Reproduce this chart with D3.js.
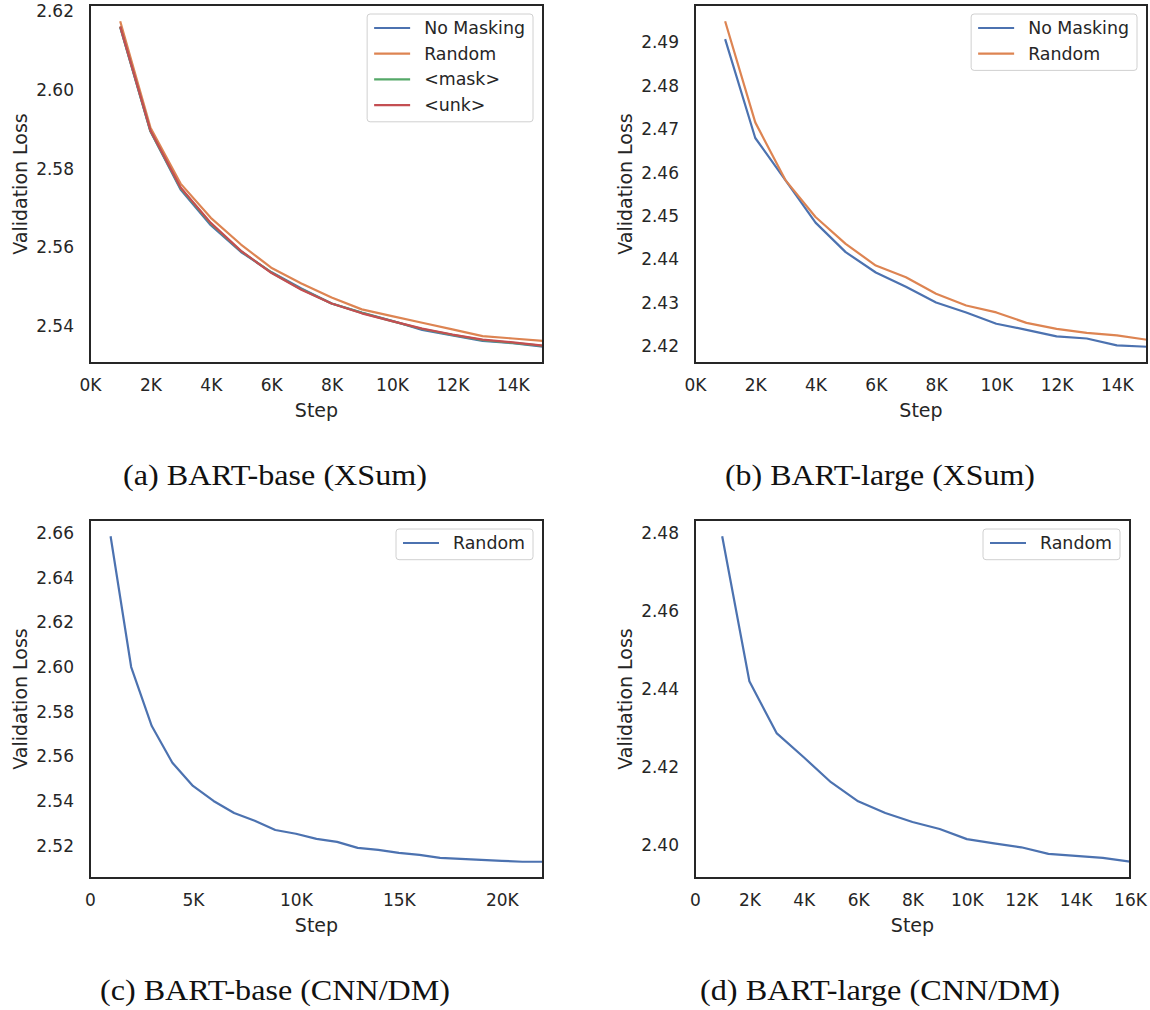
<!DOCTYPE html>
<html>
  <head>
    <meta charset="utf-8">
    <title>Validation loss</title>
    <script src="https://d3js.org/d3.v7.min.js"></script>
    <style>
      body { margin: 0; background: #fff; }
      text { font-family: "DejaVu Sans", sans-serif; fill: #262626; }
      .caption { font-family: "Liberation Serif", "DejaVu Serif", serif; fill: #111; }
    </style>
  </head>
  <body>
    <div id="chart"></div>
    <script>
      // steps (x values)
      const steps15 = [1000, 2000, 3000, 4000, 5000, 6000, 7000, 8000, 9000, 10000, 11000, 12000, 13000, 14000, 15000];
      const steps16 = [1000, 2000, 3000, 4000, 5000, 6000, 7000, 8000, 9000, 10000, 11000, 12000, 13000, 14000, 15000, 16000];
      const steps22 = [1000, 2000, 3000, 4000, 5000, 6000, 7000, 8000, 9000, 10000, 11000, 12000, 13000, 14000, 15000, 16000, 17000, 18000, 19000, 20000, 21000, 22000];

      // (a) BART-base XSum
      const baseXsumNoMask = [2.6160, 2.5895, 2.5747, 2.5656, 2.5588, 2.5537, 2.5495, 2.5457, 2.5434, 2.5413, 2.5390, 2.5376, 2.5362, 2.5356, 2.5347];
      const baseXsumRandom = [2.6175, 2.5905, 2.5762, 2.5675, 2.5607, 2.5548, 2.5508, 2.5472, 2.5442, 2.5425, 2.5408, 2.5391, 2.5374, 2.5368, 2.5362];
      const baseXsumMask = [2.6161, 2.5896, 2.5750, 2.5660, 2.5590, 2.5536, 2.5493, 2.5457, 2.5433, 2.5412, 2.5392, 2.5377, 2.5364, 2.5357, 2.5349];
      const baseXsumUnk = [2.6162, 2.5897, 2.5752, 2.5662, 2.5591, 2.5535, 2.5492, 2.5457, 2.5432, 2.5412, 2.5393, 2.5378, 2.5365, 2.5358, 2.5350];

      // (b) BART-large XSum
      const largeXsumNoMask = [2.4908, 2.4680, 2.4583, 2.4485, 2.4417, 2.4370, 2.4337, 2.4301, 2.4278, 2.4252, 2.4238, 2.4223, 2.4218, 2.4202, 2.4199];
      const largeXsumRandom = [2.4949, 2.4716, 2.4583, 2.4498, 2.4436, 2.4386, 2.4359, 2.4321, 2.4294, 2.4278, 2.4254, 2.4240, 2.4231, 2.4225, 2.4215];

      // (c) BART-base CNN/DM
      const baseCnnRandom = [2.6585, 2.6000, 2.5736, 2.5572, 2.5468, 2.5401, 2.5347, 2.5312, 2.5271, 2.5254, 2.5231, 2.5218, 2.5191, 2.5182, 2.5169, 2.5160, 2.5146, 2.5142, 2.5137, 2.5133, 2.5129, 2.5129];

      // (d) BART-large CNN/DM
      const largeCnnRandom = [2.4792, 2.4420, 2.4287, 2.4225, 2.4161, 2.4112, 2.4082, 2.4059, 2.4041, 2.4015, 2.4004, 2.3994, 2.3977, 2.3972, 2.3967, 2.3957];

      // tick values
      const xTicks15 = [0, 2000, 4000, 6000, 8000, 10000, 12000, 14000];
      const xTicks22 = [0, 5000, 10000, 15000, 20000];
      const xTicks16 = [0, 2000, 4000, 6000, 8000, 10000, 12000, 14000, 16000];
      const yTicksA = [2.54, 2.56, 2.58, 2.60, 2.62];
      const yTicksB = [2.42, 2.43, 2.44, 2.45, 2.46, 2.47, 2.48, 2.49];
      const yTicksC = [2.52, 2.54, 2.56, 2.58, 2.60, 2.62, 2.64, 2.66];
      const yTicksD = [2.40, 2.42, 2.44, 2.46, 2.48];

      const captions = ["(a) BART-base (XSum)", "(b) BART-large (XSum)", "(c) BART-base (CNN/DM)", "(d) BART-large (CNN/DM)"];

      // seaborn "deep" palette
      const colors = { blue: "#4c72b0", orange: "#dd8452", green: "#55a868", red: "#c44e52" };

      const tickSize = 17, legendSize = 17.4, labelSize = 19;

      const svg = d3.select("#chart").append("svg")
        .attr("width", 1150)
        .attr("height", 1010);

      const panels = [
        {
          box: { x0: 90, x1: 543, y0: 5, y1: 363 },
          xMax: 15000, xTicks: xTicks15, kZero: true, yTicks: yTicksA,
          series: [
            { name: "No Masking", x: steps15, y: baseXsumNoMask, color: colors.blue },
            { name: "Random", x: steps15, y: baseXsumRandom, color: colors.orange },
            { name: "<mask>", x: steps15, y: baseXsumMask, color: colors.green },
            { name: "<unk>", x: steps15, y: baseXsumUnk, color: colors.red }
          ],
          caption: captions[0], capX: 275, capY: 485, capW: 304
        },
        {
          box: { x0: 695, x1: 1147, y0: 5, y1: 363 },
          xMax: 15000, xTicks: xTicks15, kZero: true, yTicks: yTicksB,
          series: [
            { name: "No Masking", x: steps15, y: largeXsumNoMask, color: colors.blue },
            { name: "Random", x: steps15, y: largeXsumRandom, color: colors.orange }
          ],
          caption: captions[1], capX: 880, capY: 485, capW: 310
        },
        {
          box: { x0: 90, x1: 543, y0: 520, y1: 878 },
          xMax: 22000, xTicks: xTicks22, kZero: false, yTicks: yTicksC,
          series: [
            { name: "Random", x: steps22, y: baseCnnRandom, color: colors.blue }
          ],
          caption: captions[2], capX: 275, capY: 1000, capW: 350
        },
        {
          box: { x0: 695, x1: 1130, y0: 520, y1: 878 },
          xMax: 16000, xTicks: xTicks16, kZero: false, yTicks: yTicksD,
          series: [
            { name: "Random", x: steps16, y: largeCnnRandom, color: colors.blue }
          ],
          caption: captions[3], capX: 880, capY: 1000, capW: 360
        }
      ];

      panels.forEach(drawPanel);

      // draws one subplot
      function drawPanel(p, i) {
        let b = p.box;
        let g = svg.append("g");

        // y domain: data extent with 5% margins (matplotlib autoscale)
        let all = [];
        p.series.forEach(s => all = all.concat(s.y));
        let lo = d3.min(all), hi = d3.max(all), pad = (hi - lo) * 0.05;

        let x = d3.scaleLinear().domain([0, p.xMax]).range([b.x0, b.x1]);
        let y = d3.scaleLinear().domain([lo - pad, hi + pad]).range([b.y1, b.y0]);

        // axes (no tick marks, seaborn white style)
        let xAxis = d3.axisBottom(x)
          .tickValues(p.xTicks)
          .tickSize(0)
          .tickPadding(16)
          .tickFormat(v => (v === 0 && !p.kZero) ? "0" : (v / 1000) + "K");
        let yAxis = d3.axisLeft(y)
          .tickValues(p.yTicks)
          .tickSize(0)
          .tickPadding(16)
          .tickFormat(d3.format(".2f"));

        g.append("g")
          .attr("transform", "translate(0," + b.y1 + ")")
          .call(xAxis)
          .call(a => a.select(".domain").remove())
          .selectAll("text")
            .attr("font-size", tickSize)
            .attr("font-family", "DejaVu Sans")
            .attr("fill", "#262626");
        g.append("g")
          .attr("transform", "translate(" + b.x0 + ",0)")
          .call(yAxis)
          .call(a => a.select(".domain").remove())
          .selectAll("text")
            .attr("font-size", tickSize)
            .attr("font-family", "DejaVu Sans")
            .attr("fill", "#262626");

        // axis labels
        g.append("text")
          .attr("x", (b.x0 + b.x1) / 2)
          .attr("y", b.y1 + 54)
          .attr("text-anchor", "middle")
          .attr("font-size", labelSize)
          .text("Step");
        g.append("text")
          .attr("transform", "translate(" + (b.x0 - 63) + "," + ((b.y0 + b.y1) / 2) + ") rotate(-90)")
          .attr("text-anchor", "middle")
          .attr("font-size", labelSize)
          .text("Validation Loss");

        // lines
        let clipId = "clip" + i;
        g.append("clipPath").attr("id", clipId)
          .append("rect")
            .attr("x", b.x0).attr("y", b.y0)
            .attr("width", b.x1 - b.x0).attr("height", b.y1 - b.y0);
        let line = d3.line().x(d => x(d[0])).y(d => y(d[1]));
        p.series.forEach(s => {
          g.append("path")
            .datum(d3.zip(s.x, s.y))
            .attr("clip-path", "url(#" + clipId + ")")
            .attr("fill", "none")
            .attr("stroke", s.color)
            .attr("stroke-width", 2.2)
            .attr("stroke-linejoin", "round")
            .attr("d", line);
        });

        // frame
        g.append("rect")
          .attr("x", b.x0).attr("y", b.y0)
          .attr("width", b.x1 - b.x0).attr("height", b.y1 - b.y0)
          .attr("fill", "none")
          .attr("stroke", "#262626")
          .attr("stroke-width", 2);

        // legend, top right
        let rowH = 25.7;
        let leg = g.append("g");
        let box = leg.append("rect");
        let items = leg.selectAll(".item")
          .data(p.series)
          .enter().append("g")
            .attr("transform", (d, k) => "translate(0," + (k * rowH) + ")");
        items.append("line")
          .attr("x1", 0).attr("x2", 36)
          .attr("stroke", d => d.color)
          .attr("stroke-width", 2.2);
        items.append("text")
          .attr("x", 50)
          .attr("dy", "0.35em")
          .attr("font-size", legendSize)
          .text(d => d.name);
        let tw = d3.max(items.selectAll("text").nodes(), n => n.getComputedTextLength());
        let lw = 7 + 50 + tw + 8;
        let lh = p.series.length * rowH + 5;
        let lx = b.x1 - 10 - lw, ly = b.y0 + 9;
        box.attr("x", -7).attr("y", -14)
          .attr("width", lw).attr("height", lh)
          .attr("rx", 3)
          .attr("fill", "rgba(255,255,255,0.8)")
          .attr("stroke", "#d0d0d0")
          .attr("stroke-width", 1);
        leg.attr("transform", "translate(" + (lx + 7) + "," + (ly + 14) + ")");

        // caption
        svg.append("text")
          .attr("class", "caption")
          .attr("x", p.capX)
          .attr("y", p.capY)
          .attr("text-anchor", "middle")
          .attr("font-size", 29)
          .attr("textLength", p.capW)
          .attr("lengthAdjust", "spacingAndGlyphs")
          .text(p.caption);
      }
    </script>
  </body>
</html>
